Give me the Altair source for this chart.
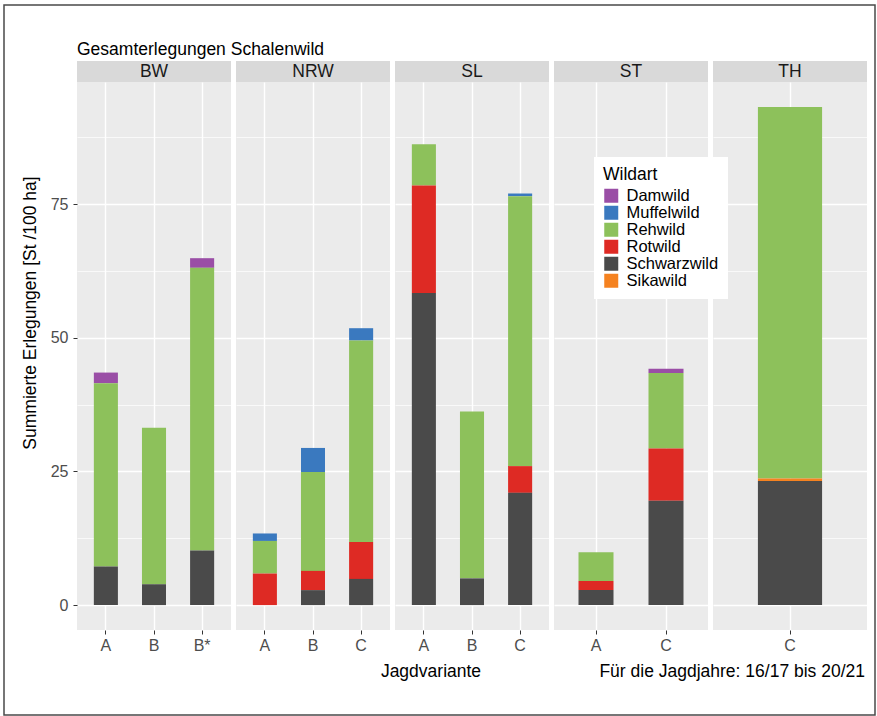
import altair as alt
import pandas as pd

# Summed harvest of hoofed game per Jagdvariante (St /100 ha), hunting years 16/17 to 20/21
bundesland = ["BW", "BW", "BW", "NRW", "NRW", "NRW", "SL", "SL", "SL", "ST", "ST", "TH"]
jagdvariante = ["A", "B", "B*", "A", "B", "C", "A", "B", "C", "A", "C", "C"]

schwarzwild = [7.2, 3.9, 10.2, 0.0, 2.8, 4.9, 58.4, 5.0, 21.0, 2.8, 19.5, 23.2]
sikawild = [0.0, 0.0, 0.0, 0.0, 0.0, 0.0, 0.0, 0.0, 0.0, 0.0, 0.0, 0.5]
rotwild = [0.0, 0.0, 0.0, 5.9, 3.6, 6.9, 20.1, 0.0, 5.0, 1.7, 9.8, 0.0]
rehwild = [34.3, 29.3, 52.9, 6.1, 18.5, 37.7, 7.7, 31.2, 50.5, 5.4, 14.1, 69.5]
muffelwild = [0.0, 0.0, 0.0, 1.4, 4.5, 2.3, 0.0, 0.0, 0.5, 0.0, 0.0, 0.0]
damwild = [2.0, 0.0, 1.8, 0.0, 0.0, 0.0, 0.0, 0.0, 0.0, 0.0, 0.8, 0.0]

wildarten = ["Damwild", "Muffelwild", "Rehwild", "Rotwild", "Schwarzwild", "Sikawild"]
farben = ["#9A4EA6", "#3A79BF", "#8DC15B", "#DE2A24", "#4A4A4A", "#F58220"]
# bottom-to-top order inside each bar
stapel_folge = ["Schwarzwild", "Sikawild", "Rotwild", "Rehwild", "Muffelwild", "Damwild"]

y_ticks = [0, 12.5, 25, 37.5, 50, 62.5, 75, 87.5]
panels_order = ["BW", "NRW", "SL", "ST", "TH"]

werte_je_art = {
    "Damwild": damwild,
    "Muffelwild": muffelwild,
    "Rehwild": rehwild,
    "Rotwild": rotwild,
    "Schwarzwild": schwarzwild,
    "Sikawild": sikawild,
}

rows = []
for art, werte in werte_je_art.items():
    for bl, jv, w in zip(bundesland, jagdvariante, werte):
        if w > 0:
            rows.append({"Bundesland": bl, "Jagdvariante": jv, "Wildart": art,
                         "Erlegungen": w, "Folge": stapel_folge.index(art)})
df = pd.DataFrame(rows)

W, H = 154, 548
FONT = "Liberation Sans"
TXT = 17.5

y_scale = alt.Scale(domain=[-4.66, 97.86], nice=False, zero=False)
color_scale = alt.Scale(domain=wildarten, range=farben)
legend = alt.Legend(
    title="Wildart", orient="none", legendX=517, legendY=75,
    fillColor="white", padding=9, symbolType="square", symbolSize=196,
    symbolStrokeWidth=0, symbolOpacity=1, labelFontSize=16.5, titleFontSize=17.5,
    titleFontWeight="normal", titleColor="black", labelColor="black",
    rowPadding=0, titlePadding=4, labelOffset=7, cornerRadius=0,
)

grid_width = {"condition": {"test": "datum.value % 25 === 0", "value": 1.4}, "value": 0.7}


def panel(bl, first):
    d = df[df.Bundesland == bl]
    x_order = [jv for b, jv in zip(bundesland, jagdvariante) if b == bl]
    y_axis = alt.Axis(
        values=y_ticks, title=None, domain=False, grid=True, gridColor="white",
        gridWidth=grid_width, labels=first, ticks=first,
        labelExpr="datum.value % 25 === 0 ? datum.label : ''",
        tickOpacity={"condition": {"test": "datum.value % 25 === 0", "value": 1}, "value": 0},
        labelFontSize=16, labelColor="#4D4D4D", tickColor="#333333", tickSize=4,
        labelPadding=5,
    )
    x_axis = alt.Axis(
        title=None, labelAngle=0, domain=False, grid=True, gridColor="white",
        gridWidth=1.4, bandPosition=0.5, labelFontSize=16, labelColor="#4D4D4D",
        tickColor="#333333", tickSize=4, labelPadding=3,
    )
    bars = alt.Chart(d).mark_bar().encode(
        x=alt.X("Jagdvariante:N", sort=x_order,
                scale=alt.Scale(paddingInner=0.5, paddingOuter=0.35), axis=x_axis),
        y=alt.Y("Erlegungen:Q", stack="zero", scale=y_scale, axis=y_axis),
        color=alt.Color("Wildart:N", scale=color_scale, legend=legend),
        order=alt.Order("Folge:Q", sort="ascending"),
    )
    lab = alt.Data(values=[{"t": bl}])
    strip_bg = alt.Chart(lab).mark_rect(color="#D9D9D9").encode(
        x=alt.value(0), x2=alt.value(W), y=alt.value(-21), y2=alt.value(0)
    )
    strip_txt = alt.Chart(lab).mark_text(
        fontSize=TXT, color="#1A1A1A", baseline="middle", font=FONT
    ).encode(x=alt.value(W / 2), y=alt.value(-10), text="t:N")
    layers = [bars, strip_bg, strip_txt]

    if first:
        def note(text, x, y, **kw):
            return alt.Chart(alt.Data(values=[{"t": text}])).mark_text(
                fontSize=TXT, color="black", font=FONT, **kw
            ).encode(x=alt.value(x), y=alt.value(y), text="t:N")

        layers += [
            note("Gesamterlegungen Schalenwild", 0, -27, align="left", baseline="alphabetic"),
            note("Summierte Erlegungen [St /100 ha]", -46, 231, angle=270,
                 align="center", baseline="middle"),
            note("Jagdvariante", 354, 590, align="center", baseline="middle"),
            note("Für die Jagdjahre: 16/17 bis 20/21", 788, 590, align="right",
                 baseline="middle"),
        ]
        frame = alt.Chart(alt.Data(values=[{"t": 0}])).mark_rect(
            fillOpacity=0, stroke="#4A4A4A", strokeWidth=1.5
        ).encode(x=alt.value(-73), x2=alt.value(798), y=alt.value(-77), y2=alt.value(633))
        layers.append(frame)

    return alt.layer(*layers).properties(width=W, height=H)


chart = alt.hconcat(
    *[panel(bl, i == 0) for i, bl in enumerate(panels_order)], spacing=5, bounds="flush"
).properties(
    padding={"left": 3, "top": 4, "right": 0, "bottom": 0}
).configure(
    font=FONT, background="white"
).configure_view(
    fill="#EBEBEB", stroke=None
)

chart.save("out.html", embed_options={"renderer": "svg", "actions": False})
